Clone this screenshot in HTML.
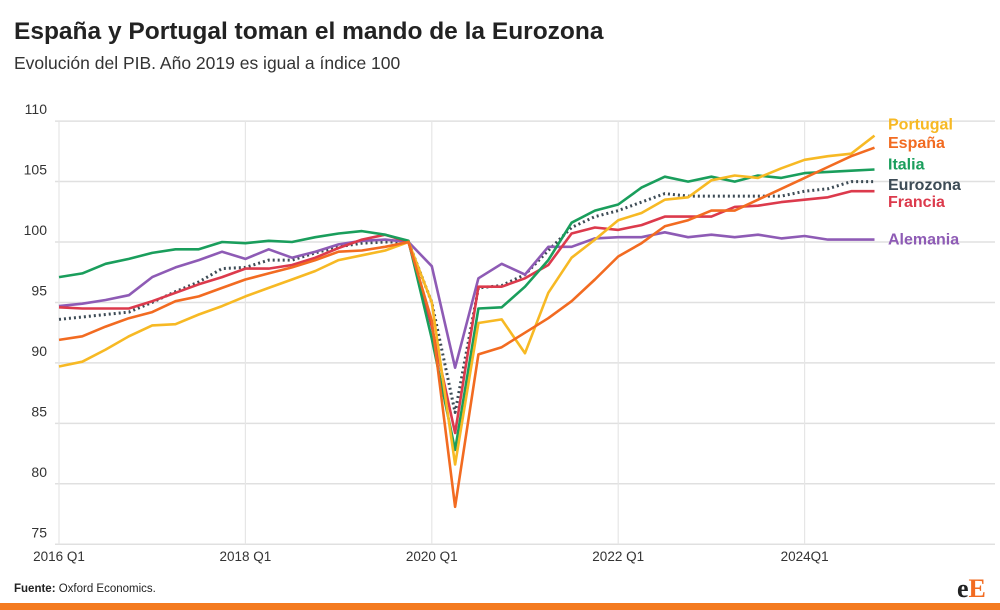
<!DOCTYPE html>
<html><head><meta charset="utf-8">
<style>
body{margin:0;background:#fff;width:1000px;height:610px;overflow:hidden;font-family:"Liberation Sans",sans-serif;}
svg{display:block}
</style></head>
<body>
<svg id="chart" width="1000" height="610">
<text x="14" y="39" font-size="24.5" font-weight="bold" fill="#222">España y Portugal toman el mando de la Eurozona</text>
<text x="14" y="69" font-size="17.5" fill="#333">Evolución del PIB. Año 2019 es igual a índice 100</text>
<g id="grid"></g><g id="series"></g><g id="labels"></g>
<text x="14" y="592" font-size="11.5" fill="#222"><tspan font-weight="bold">Fuente:</tspan> Oxford Economics.</text>
<text x="957" y="597" font-size="26" font-weight="bold" font-family="Liberation Serif,serif" fill="#222">e<tspan fill="#f26b21">E</tspan></text>
<rect x="0" y="603" width="1000" height="7" fill="#f47b20"></rect>
</svg>
<script>
const yTicks=[110,105,100,95,90,85,80,75];
const xTickIdx=[0,8,16,24,32];
const xTickLabels=["2016 Q1","2018 Q1","2020 Q1","2022 Q1","2024Q1"];
const names=["Portugal","España","Italia","Eurozona","Francia","Alemania"];
const colors=["#f7b924","#f26b21","#1a9e5c","#3d4b55","#dc3a4c","#8e5bb5"];
const labelVals=[109.7,108.2,106.4,104.7,103.3,100.2];
const portugal=[89.7,90.1,91.1,92.2,93.1,93.2,94.0,94.7,95.5,96.2,96.9,97.6,98.5,98.9,99.3,100,95.0,81.6,93.3,93.6,90.8,95.8,98.7,100.2,101.8,102.4,103.5,103.7,105.1,105.5,105.3,106.1,106.8,107.1,107.3,108.8];
const espana=[91.9,92.2,93.0,93.7,94.2,95.1,95.5,96.2,96.9,97.4,97.9,98.5,99.2,99.3,99.6,100,93.5,78.1,90.7,91.3,92.5,93.7,95.1,96.9,98.8,99.9,101.3,101.8,102.6,102.6,103.5,104.4,105.3,106.2,107.1,107.8];
const italia=[97.1,97.4,98.2,98.6,99.1,99.4,99.4,100.0,99.9,100.1,100.0,100.4,100.7,100.9,100.6,100.1,92.0,82.8,94.5,94.6,96.3,98.5,101.6,102.6,103.1,104.5,105.4,105.0,105.4,105.0,105.5,105.3,105.7,105.8,105.9,106.0];
const eurozona=[93.6,93.8,94.0,94.2,95.0,95.9,96.7,97.8,97.9,98.5,98.5,99.1,99.6,99.9,100.0,100,95.0,85.9,96.2,96.4,97.3,99.3,101.2,102.1,102.6,103.3,104.0,103.8,103.8,103.8,103.8,103.8,104.2,104.4,105.0,105.0];
const francia=[94.6,94.5,94.5,94.5,95.1,95.8,96.5,97.1,97.8,97.8,98.1,98.7,99.5,100.2,100.6,100.0,93.0,84.2,96.3,96.3,97.0,98.1,100.7,101.2,101.0,101.4,102.1,102.1,102.1,102.9,103.0,103.3,103.5,103.7,104.2,104.2];
const alemania=[94.7,94.9,95.2,95.6,97.1,97.9,98.5,99.2,98.6,99.4,98.7,99.2,99.8,100.1,100.2,100,98.0,89.6,97.0,98.2,97.3,99.6,99.6,100.3,100.4,100.4,100.8,100.4,100.6,100.4,100.6,100.3,100.5,100.2,100.2,100.2];
const allSeries=[portugal,espana,italia,eurozona,francia,alemania];

const NS="http://www.w3.org/2000/svg";
const X=i=>59+23.3*i;
const Y=v=>242-(v-100)*12.09;
function mk(tag,attrs,parent){const e=document.createElementNS(NS,tag);for(const k in attrs)e.setAttribute(k,attrs[k]);parent.appendChild(e);return e;}
const grid=document.getElementById('grid'),ser=document.getElementById('series'),lab=document.getElementById('labels');
yTicks.forEach(v=>{
  const l=mk('line',{x1:55,x2:995,y1:Y(v),y2:Y(v),stroke:'#e0e0e0','stroke-width':1.5},grid);
  
  
  const t=mk('text',{x:47,y:Y(v)-7,'text-anchor':'end','font-size':14,fill:'#333'},grid);
  t.textContent=v;
  
  
});
xTickIdx.forEach((idx,k)=>{
  const l=mk('line',{x1:X(idx),x2:X(idx),y1:Y(110),y2:Y(75),stroke:'#e6e6e6','stroke-width':1.2},grid);
  
  
  const t=mk('text',{x:X(idx),y:561,'text-anchor':'middle','font-size':13.5,fill:'#333'},grid);
  t.textContent=xTickLabels[k];
  
  
});
const order=[3,5,4,2,0,1];
order.forEach(s=>{
  const d=allSeries[s].map((v,i)=>(i?'L':'M')+X(i).toFixed(1)+','+Y(v).toFixed(1)).join('');
  const attrs={d:d,fill:'none',stroke:colors[s],'stroke-width':s===3?3:2.6,'stroke-linejoin':'round'};
  if(s===3){attrs['stroke-dasharray']='2 3';}
  const p=mk('path',attrs,ser);
  
  
  const t=mk('text',{x:888,y:Y(labelVals[s])+5,'font-size':16,'font-weight':'bold',fill:colors[s]},lab);
  t.textContent=names[s];
  
  
});
</script>
</body></html>
